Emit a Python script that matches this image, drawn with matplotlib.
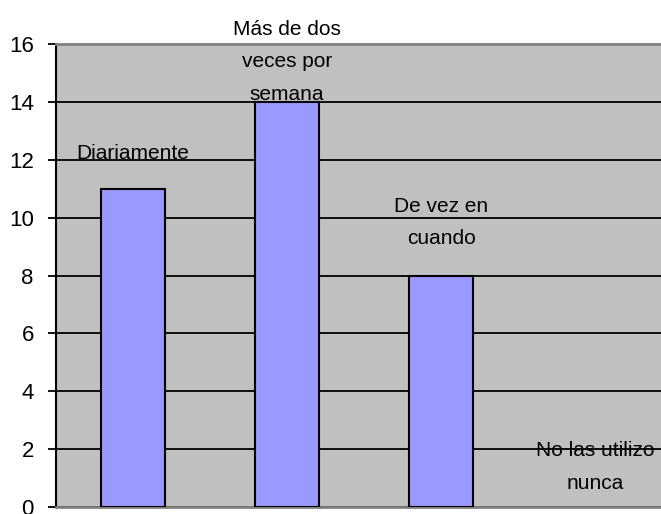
import matplotlib.pyplot as plt
import matplotlib.font_manager as fm

# data
categorias = ['Diariamente', 'Más de dos\nveces por\nsemana', 'De vez en\ncuando', 'No las utilizo\nnunca']
valores = [11, 14, 8, 0]
yticks = [0, 2, 4, 6, 8, 10, 12, 14, 16]

# vertical offset (pixels) of each label block above its bar top
label_off_px = [35, 40, 53, 40]

names = {f.name for f in fm.fontManager.ttflist}
fam = ['Liberation Sans Narrow', 'Liberation Sans', 'DejaVu Sans']
fam = [f for f in fam if f in names] or ['DejaVu Sans']
plt.rcParams['font.family'] = fam

fig = plt.figure(figsize=(6.61, 5.14), dpi=100)
W, H = 661, 514
# plot area is cropped on the right side of the picture
ax = fig.add_axes([56 / W, 1 - 507 / H, 616 / W, (507 - 44) / H])
ax.set_facecolor('#C0C0C0')

x = range(len(valores))
edges = ['black' if v > 0 else 'none' for v in valores]
ax.bar(x, valores, width=0.42, color='#9999FF', edgecolor=edges, linewidth=1.5, zorder=3)

ax.set_xlim(-0.5, len(valores) - 0.5)
ax.set_ylim(0, 16)
ax.set_yticks(yticks)
ax.set_yticklabels([str(t) for t in yticks], fontsize=16)
ax.set_xticks([])
ax.yaxis.grid(True, color='black', linewidth=1.3, zorder=1)
ax.tick_params(axis='y', direction='out', length=6, width=1.3, pad=10)

for side in ['top', 'bottom', 'right']:
    ax.spines[side].set_color('#808080')
    ax.spines[side].set_linewidth(2)
ax.spines['left'].set_color('black')
ax.spines['left'].set_linewidth(1.5)

for i, (cat, v) in enumerate(zip(categorias, valores)):
    ax.annotate(cat, (i, v), xytext=(0, label_off_px[i] * 0.72), textcoords='offset points',
                ha='center', va='center', fontsize=15, linespacing=1.9, zorder=4,
                annotation_clip=False)

fig.savefig('out.png', dpi=100)
